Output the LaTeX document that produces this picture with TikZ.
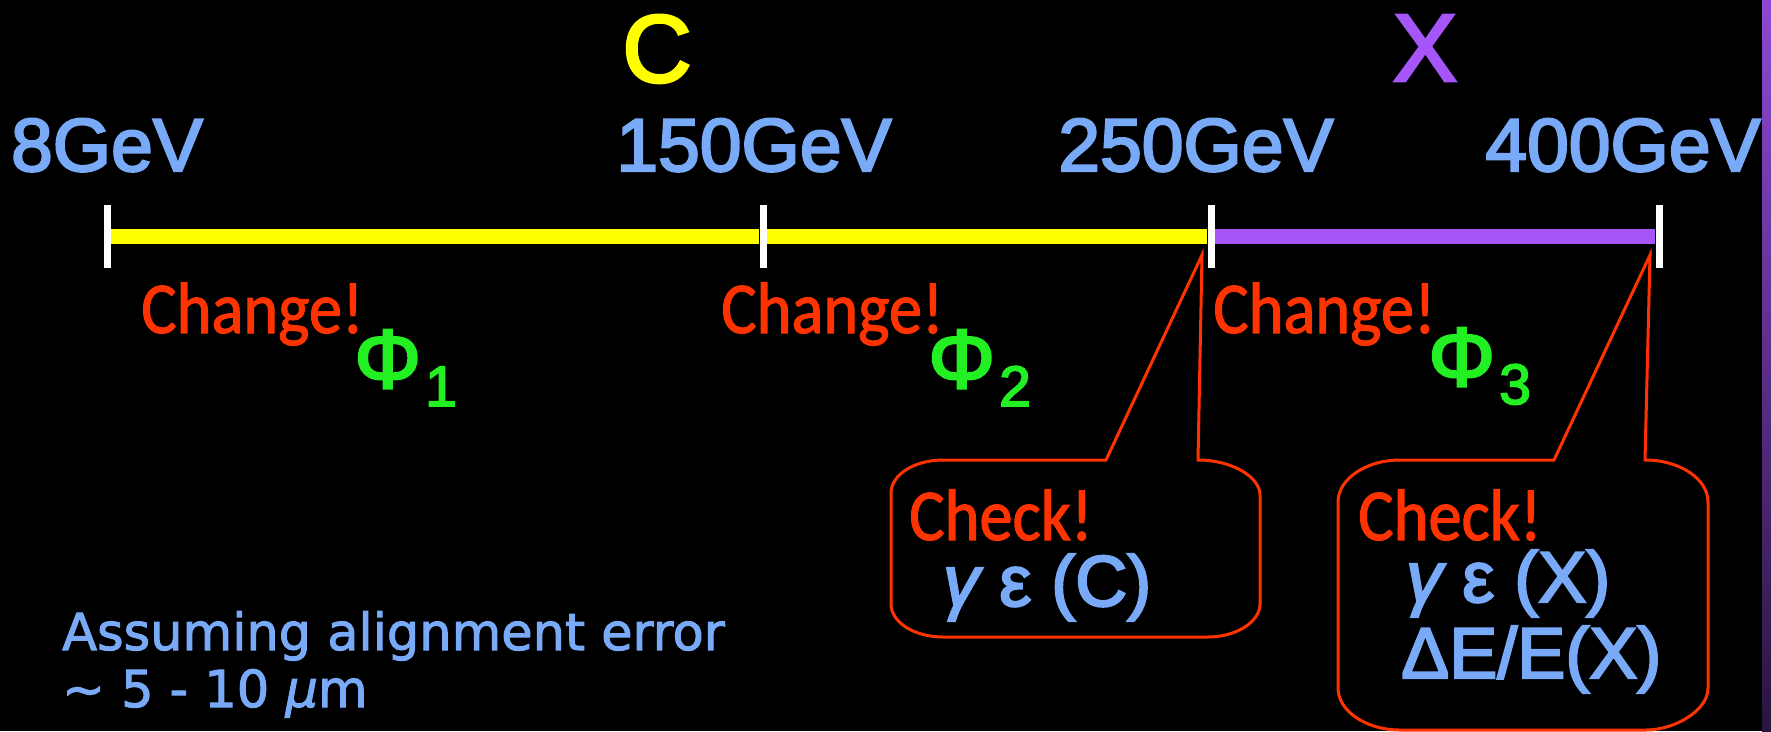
\documentclass[tikz,border=0pt]{standalone}
\usepackage{fontspec}
\setmainfont{Liberation Sans}
\newfontfamily\gevfont{Liberation Sans}[FakeBold=3]
\newfontfamily\handfont{Carlito}[FakeStretch=0.91, FakeBold=1.5]
\newfontfamily\widefont{DejaVu Sans}[FakeBold=2, ItalicFont={DejaVu Sans Oblique}, ItalicFeatures={FakeBold=2}]
\usepackage{xcolor}
\definecolor{gevblue}{HTML}{78AAF8}
\definecolor{cyellow}{HTML}{FFFF00}
\definecolor{xpurple}{HTML}{A555F8}
\definecolor{alertred}{HTML}{FF3300}
\definecolor{phigreen}{HTML}{22F022}
\usepackage{tikz}
\usetikzlibrary{positioning, calc}
\tikzset{
    gev/.style = {anchor=base, inner sep=0pt, text=gevblue,
                  font=\gevfont\fontsize{75}{75}\selectfont},
    family/.style = {anchor=base, inner sep=0pt,
                     font=\gevfont\fontsize{96}{96}\selectfont},
    tickmark/.style = {rectangle, fill=white, inner sep=0pt,
                       minimum width=7pt, minimum height=63pt},
    cline/.style = {line width=15pt, color=cyellow},
    xline/.style = {line width=15pt, color=xpurple},
    change/.style = {anchor=base west, inner sep=0pt, text=alertred,
                     font=\handfont\fontsize{73}{73}\selectfont},
    phi/.style = {anchor=base west, inner sep=0pt, text=phigreen,
                  font=\gevfont},
    callout/.style = {line width=3pt, draw=alertred},
    check/.style = {anchor=base west, inner sep=0pt, text=gevblue,
                    font=\gevfont\fontsize{72}{72}\selectfont},
    note/.style = {anchor=base west, inner sep=0pt, text=gevblue,
                   font=\widefont\fontsize{51}{51}\selectfont},
}
\newcommand{\phisub}[1]{{\fontsize{84}{84}\selectfont Φ}\kern4pt\raisebox{-18pt}{\fontsize{57}{57}\selectfont #1}}

\begin{document}
\begin{tikzpicture}[x=1pt, y=-1pt]
        \fill[black] (0,0) rectangle (1771,731);
        \useasboundingbox (0,0) rectangle (1771,731);
        \shade[top color=xpurple!85!black, bottom color=xpurple!25!black] (1762,0) rectangle (1771,731);
        % energy axis
        \node[tickmark] (t8) at (107,236.5) {};
        \node[tickmark] (t150) at (763,236.5) {};
        \node[tickmark] (t250) at (1211,236.5) {};
        \node[tickmark] (t400) at (1659,236.5) {};
        \draw[cline] (t8) -- (t150) -- (t250);
        \draw[xline] (t250) -- (t400);
        \node[gev] (e8) at (107,171) {8GeV};
        \node[gev] (e150) at (754,171) {150GeV};
        \node[gev] (e250) at (1196,171) {250GeV};
        \node[gev] (e400) at (1623,171) {400GeV};
        \node[family, text=cyellow] (famC) at (657,82) {C};
        \node[family, text=xpurple] (famX) at (1425,81) {X};
        \node[change] (ch1) at (141,333) {Change!};
        \node[change] (ch2) at (721,333) {Change!};
        \node[change] (ch3) at (1213,333) {Change!};
        \node[phi] (phi1) at (354,388) {\phisub{1}};
        \node[phi] (phi2) at (928,388) {\phisub{2}};
        \node[phi] (phi3) at (1428,386) {\phisub{3}};
        % callouts
        \draw[callout] (943,460) -- (1106,460) -- (1202,255) -- (1198,460)
            .. controls (1232,460) and (1260,477) .. (1260,495) -- (1260,604)
            .. controls (1260,622) and (1236,637) .. (1208,637) -- (943,637)
            .. controls (914,637) and (891,622) .. (891,604) -- (891,493)
            .. controls (891,475) and (914,460) .. (943,460) -- cycle;
        \draw[callout] (1400,460) -- (1554,460) -- (1650,255) -- (1645,460)
            .. controls (1680,460) and (1708,479) .. (1708,502) -- (1708,688)
            .. controls (1708,711) and (1674,730) .. (1646,730) -- (1400,730)
            .. controls (1366,730) and (1338,711) .. (1338,688) -- (1338,502)
            .. controls (1338,479) and (1366,460) .. (1400,460) -- cycle;
        \node[change] (chk1) at (909,540) {Check!};
        \node[check] (ge1) at (943,606) {{\itshape γ} ε (C)};
        \node[change] (chk2) at (1358,540) {Check!};
        \node[check] (ge2) at (1406,602) {{\itshape γ} ε (X)};
        \node[check] (de2) at (1401,678) {ΔE/E(X)};
        \node[note] (asm) at (62,650) {Assuming alignment error};
        \node[note] (tol) at (62,707) {∼ 5 - 10 {\itshape μ}m};
\end{tikzpicture}
\end{document}
